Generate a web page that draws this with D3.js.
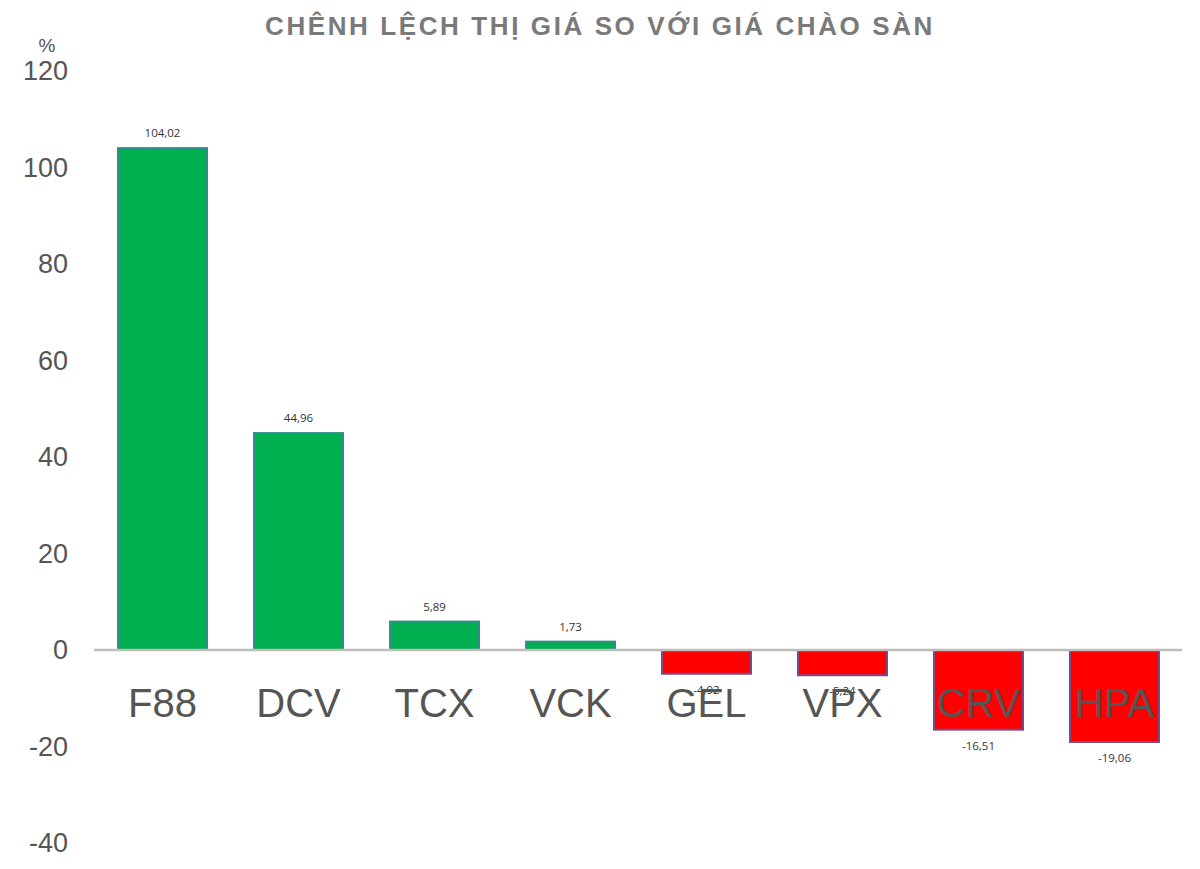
<!DOCTYPE html>
<html>
<head>
<meta charset="utf-8">
<script src="https://cdn.jsdelivr.net/npm/d3@7"></script>
<style>
  body { margin: 0; background: #fff; }
  svg { display: block; }
</style>
</head>
<body>
<div id="chart"></div>
<script>
    'use strict';

    // chart data
    var categories = ['F88', 'DCV', 'TCX', 'VCK', 'GEL', 'VPX', 'CRV', 'HPA'];
    var values = [104.02, 44.96, 5.89, 1.73, -4.92, -5.24, -16.51, -19.06];
    var valueLabels = ['104,02', '44,96', '5,89', '1,73', '-4,92', '-5,24', '-16,51', '-19,06'];
    var yTicks = [-40, -20, 0, 20, 40, 60, 80, 100, 120];
    var title = 'CHÊNH LỆCH THỊ GIÁ SO VỚI GIÁ CHÀO SÀN';

    var data = categories.map(function (c, i) {
        return {cat: c, value: values[i], label: valueLabels[i]};
    });

    var width = 1200, height = 869;

    var svg = d3.select('#chart').append('svg')
        .attr('width', width)
        .attr('height', height);

    // scales
    var x = d3.scaleBand()
        .domain(categories)
        .range([94.5, 1182.5])
        .paddingInner(45 / 136)
        .paddingOuter(45 / 136 / 2);

    var y = d3.scaleLinear()
        .domain([-40, 120])
        .range([843, 71]);

    // title
    svg.append('text')
        .attr('x', 600)
        .attr('y', 35)
        .attr('text-anchor', 'middle')
        .style('font-family', '"Liberation Sans", Arial, sans-serif')
        .style('font-weight', 'bold')
        .style('font-size', '26px')
        .style('letter-spacing', '2.6px')
        .style('fill', '#7a7a7a')
        .text(title);

    // unit
    svg.append('text')
        .attr('x', 47)
        .attr('y', 52)
        .attr('text-anchor', 'middle')
        .style('font-family', '"Liberation Sans", Arial, sans-serif')
        .style('font-size', '19px')
        .style('fill', '#555')
        .text('%');

    // y axis (labels only)
    var yAxis = svg.append('g')
        .attr('transform', 'translate(68,0)')
        .call(d3.axisLeft(y).tickValues(yTicks).tickSize(0).tickPadding(0)
            .tickFormat(function (d) { return String(d); }));
    yAxis.select('.domain').remove();
    yAxis.selectAll('text')
        .style('font-family', '"Liberation Sans", Arial, sans-serif')
        .style('font-size', '27px')
        .style('fill', '#555');

    // bars
    svg.selectAll('.bar')
        .data(data)
        .enter().append('rect')
        .attr('class', 'bar')
        .attr('x', function (d) { return x(d.cat) + 1; })
        .attr('y', function (d) { return y(Math.max(0, d.value)); })
        .attr('width', x.bandwidth() - 2)
        .attr('height', function (d) { return Math.abs(y(d.value) - y(0)); })
        .style('fill', function (d) { return d.value >= 0 ? '#00b050' : '#ff0000'; })
        .style('stroke', function (d) { return d.value >= 0 ? '#2f8f8a' : '#7a4a8a'; })
        .style('stroke-width', 2);

    // zero line
    svg.append('line')
        .attr('x1', 94)
        .attr('x2', 1182)
        .attr('y1', y(0))
        .attr('y2', y(0))
        .style('stroke', '#bdbdbd')
        .style('stroke-width', 2.5);

    // value labels
    svg.selectAll('.val')
        .data(data)
        .enter().append('text')
        .attr('class', 'val')
        .attr('x', function (d) { return x(d.cat) + x.bandwidth() / 2; })
        .attr('y', function (d) { return d.value >= 0 ? y(d.value) - 11 : y(d.value) + 20; })
        .attr('text-anchor', 'middle')
        .style('font-family', '"Open Sans", "DejaVu Sans", sans-serif')
        .style('font-size', '11.5px')
        .style('fill', '#333')
        .text(function (d) { return d.label; });

    // category labels (drawn over bars and labels, as in the source)
    svg.selectAll('.cat')
        .data(data)
        .enter().append('text')
        .attr('class', 'cat')
        .attr('x', function (d) { return x(d.cat) + x.bandwidth() / 2; })
        .attr('y', 717)
        .attr('text-anchor', 'middle')
        .style('font-family', '"Liberation Sans", Arial, sans-serif')
        .style('font-size', '40px')
        .style('fill', '#555')
        .text(function (d) { return d.cat; });
</script>
</body>
</html>
